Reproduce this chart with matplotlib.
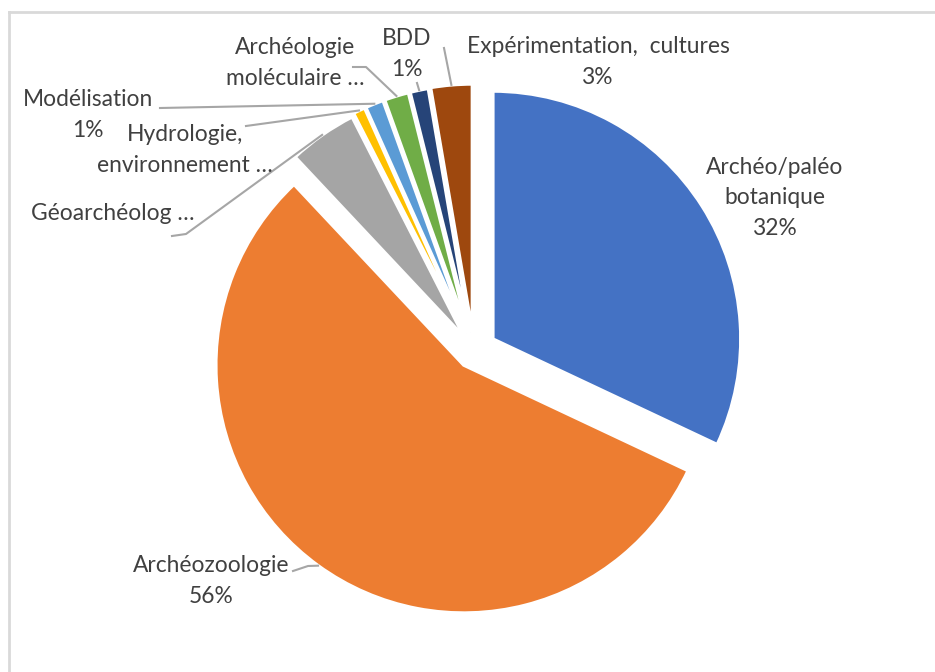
import numpy as np
import matplotlib
matplotlib.use("Agg")
import matplotlib.pyplot as plt

# data
categories = ["Archéo/paléo botanique", "Archéozoologie", "Géoarchéologie",
              "Hydrologie, environnement", "Modélisation",
              "Archéologie moléculaire", "BDD", "Expérimentation, cultures"]
shares = [32.0, 56.0, 4.5, 0.8, 1.2, 1.6, 1.2, 2.7]
label_texts = ["Archéo/paléo\nbotanique\n32%", "Archéozoologie\n56%",
               "Géoarchéolog …", "Hydrologie,\nenvironnement …",
               "Modélisation\n1%", "Archéologie\nmoléculaire …",
               "BDD\n1%", "Expérimentation,  cultures\n3%"]
colors = ["#4472C4", "#ED7D31", "#A5A5A5", "#FFC000",
          "#5B9BD5", "#70AD47", "#264478", "#9E480E"]
explode = [0.09, 0.07, 0.065, 0.075, 0.075, 0.075, 0.075, 0.077]

W, H = 935, 672
R = 248.0
cx, cy = 474, 351

fig = plt.figure(figsize=(W / 100, H / 100), dpi=100)
ax = fig.add_axes([0, 0, 1, 1])

wedges, _ = ax.pie(shares, colors=colors, explode=explode, startangle=90,
                   counterclock=False, radius=1.0,
                   wedgeprops=dict(edgecolor="white", linewidth=2.5))
ax.set_xlim(-cx / R, (W - cx) / R)
ax.set_ylim(-(H - cy) / R, cy / R)
ax.set_aspect("equal")
ax.axis("off")


def px(x, y):
    # image pixel -> data coords
    return (x - cx) / R, (cy - y) / R


# label centre positions (pixels) and leader start points (pixels, None = no line)
label_pos = [(775, 198), (211, 581), (113, 214), (185, 150),
             (88, 115), (295, 63), (407, 54), (598, 62)]
leader_start = [None, [(293, 571), (308, 566)], [(172, 236), (186, 234)],
                [(246, 126)], [(160, 108)], [(353, 67), (366, 67)],
                [(417, 83)], [(444, 48)]]

for w, txt, (lx, ly), pts in zip(wedges, label_texts, label_pos, leader_start):
    tx, ty = px(lx, ly)
    ax.text(tx, ty, txt, ha="center", va="center", fontsize=16.4,
            family="Lato", color="#404040", linespacing=1.55)
    if pts is None:
        continue
    mid = np.deg2rad((w.theta1 + w.theta2) / 2)
    ex = w.center[0] + w.r * np.cos(mid)
    ey = w.center[1] + w.r * np.sin(mid)
    xs = [px(*p)[0] for p in pts] + [ex]
    ys = [px(*p)[1] for p in pts] + [ey]
    ax.plot(xs, ys, color="#A6A6A6", linewidth=1.5)

# chart frame (top and left edges visible)
fig.add_artist(plt.Line2D([9 / W, 9 / W], [0, 1 - 12 / H], color="#D9D9D9",
                          linewidth=2, transform=fig.transFigure))
fig.add_artist(plt.Line2D([9 / W, 1], [1 - 12 / H, 1 - 12 / H], color="#D9D9D9",
                          linewidth=2, transform=fig.transFigure))

fig.savefig("out.png", dpi=100, facecolor="white")
